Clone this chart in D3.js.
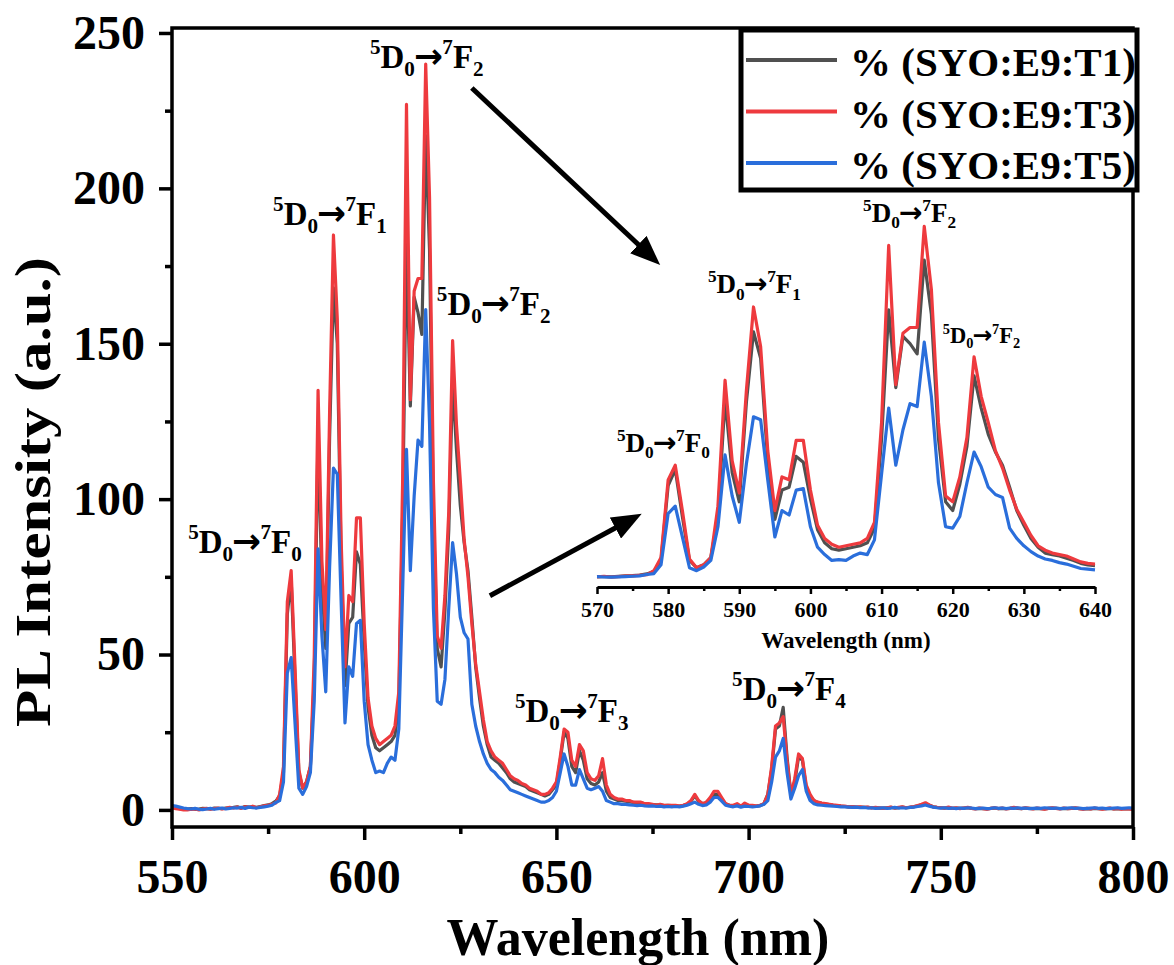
<!DOCTYPE html>
<html>
<head>
<meta charset="utf-8">
<script src="https://cdn.jsdelivr.net/npm/d3@7"></script>
<style>
  html, body { margin: 0; padding: 0; background: #ffffff; }
  svg { display: block; }
  text { font-family: "Liberation Serif", "Times New Roman", serif; font-weight: bold; fill: #000; }
</style>
</head>
<body>
<svg id="chart" width="1174" height="965"></svg>
<script>
// Emission spectra, 1 nm steps from 550 nm to 800 nm (rows of ten points)
const startNm = 550;

const intensityT1 = [
  0.8,0.6,0.4,0.2,0.3,0.4,0.2,0.3,0.5,0.4,      // 550
  0.3,0.6,0.5,0.4,0.6,0.7,0.8,1.0,0.6,1.1,      // 560
  0.9,1.0,0.8,1.1,1.4,1.6,2.0,2.8,4.5,12,       // 570
  63,74,42,12,7,9,14,42,122,72,                 // 580
  52,120,168,150,80,40,60,62,83,79,             // 590
  54,33,24,20,19,20,21,22,24,34,                // 600
  95,183,130,165,160,153,217,180,95,52,         // 610
  46,64,90,138,116,98,86,77,62,46,              // 620
  36,27,21,17,16,15,13.5,12,10,9,               // 630
  8.5,8,7.5,6.5,6,5.5,5,4.5,5,6.5,              // 640
  8,16,25,23,14,12,19,16,10,8.5,                // 650
  8,9,12,6,4,3.5,3,3,2.8,2.6,                   // 660
  2.4,2.2,2.3,2,1.8,1.7,1.6,1.6,1.4,1.5,        // 670
  1.4,1.3,1.2,1.4,1.8,2.8,4.5,2.8,2,2.2,        // 680
  3.5,5,5,3.5,2,1.5,1.3,1.6,1.2,1.8,            // 690
  1.4,1.3,1.2,1.4,2,5,13,26,27,33,              // 700
  17,5,9,17,16,7,4.5,3,2.4,2.1,                 // 710
  1.9,1.7,1.5,1.4,1.2,1.1,1.0,1.0,0.9,0.9,      // 720
  0.8,0.8,0.7,0.7,0.6,0.6,0.7,0.8,0.6,0.7,      // 730
  0.9,0.7,0.8,1.0,1.3,1.6,2.0,1.5,1.0,0.8,      // 740
  0.7,0.6,0.7,0.5,0.6,0.5,0.6,0.7,0.5,0.4,      // 750
  0.5,0.4,0.3,0.5,0.6,0.4,0.5,0.4,0.5,0.7,      // 760
  0.5,0.4,0.6,0.5,0.4,0.5,0.4,0.3,0.5,0.6,      // 770
  0.5,0.4,0.5,0.4,0.5,0.6,0.4,0.3,0.4,0.3,      // 780
  0.5,0.4,0.3,0.4,0.5,0.3,0.4,0.3,0.4,0.3,      // 790
  0.3                                           // 800
];

const intensityT3 = [
  0.6,0.4,0.2,0.0,0.0,0.2,0.3,0.0,0.3,0.5,      // 550
  0.2,0.4,0.6,0.3,0.5,0.8,0.6,0.9,0.5,1.0,      // 560
  0.8,1.2,0.7,1.0,1.3,1.5,1.8,2.2,5,14,         // 570
  67,77,46,13,7,9,14,49,135,80,                 // 580
  58,128,185,158,87,46,69,67,94,94,             // 590
  60,36,27,23,21,22,23,24,27,38,                // 600
  106,227,132,167,171,171,240,197,106,56,       // 610
  52,69,96,151,124,106,87,75,60,47,             // 620
  38,29,22,19,17,16,15,13,11,10,                // 630
  9.5,8.5,8,7,6.5,6,5,5,5.5,7,                  // 640
  9,17,26,25,16,14,21,19,12,10,                 // 650
  9.5,11,16.5,8,5,4,3.5,3.5,3,3,                // 660
  2.5,2.5,2.5,2,2,1.8,1.5,1.8,1.5,1.5,          // 670
  1.5,1.5,1.2,1.5,2,3,5,3,2,2.5,                // 680
  4,6,6,4,2,1.5,1.5,2,1.2,2.2,                  // 690
  1.5,1.5,1.2,1.5,2,5,14,27,28,30,              // 700
  16,5,10,18,16.5,8,5,3,2.5,2.2,                // 710
  2.0,1.8,1.6,1.5,1.3,1.2,1.0,1.1,0.9,1.0,      // 720
  0.8,0.9,0.6,0.8,0.7,0.5,0.7,0.9,0.6,0.8,      // 730
  1.0,0.7,0.9,1.1,1.4,1.8,2.3,1.6,1.0,0.8,      // 740
  0.7,0.6,0.9,0.5,0.7,0.4,0.6,0.8,0.5,0.3,      // 750
  0.6,0.4,0.2,0.5,0.7,0.4,0.6,0.3,0.5,0.8,      // 760
  0.6,0.4,0.7,0.5,0.3,0.6,0.4,0.2,0.5,0.7,      // 770
  0.5,0.3,0.6,0.4,0.5,0.7,0.4,0.2,0.5,0.3,      // 780
  0.6,0.4,0.2,0.4,0.6,0.3,0.5,0.2,0.4,0.3,      // 790
  0.2                                           // 800
];

const intensityT5 = [
  1.4,1.2,0.9,0.6,0.4,0.3,0.5,0.2,0.1,0.3,      // 550
  0.5,0.2,0.4,0.6,0.3,0.5,0.7,0.6,0.8,0.5,      // 560
  0.9,0.7,0.6,0.8,1.0,1.2,1.5,2.4,3,9,          // 570
  44,49,28,7,5,7.5,12,35,84,56,                 // 580
  38,78,110,108,67,28,46,43,60,61,              // 590
  35,21,16,12,12.5,12,15,17,16,26,              // 600
  71,116,77,101,119,117,161,124,65,35,          // 610
  34,42,65,86,76,62,57,55,34,27,                // 620
  22,18,15,13,12,10.5,9.5,8,6.5,6,              // 630
  5.5,5,4.5,4,3.5,3,2.5,2.5,3,4,                // 640
  6,12,18,14,8,8,13,10,7,6.5,                   // 650
  7,7.5,6,3,2.5,2,2,1.8,1.8,1.6,                // 660
  1.5,1.4,1.5,1.3,1.2,1.3,1.1,1.2,1.0,1.1,      // 670
  1.0,1.1,1.0,1.2,1.5,2,2.5,1.8,1.4,1.6,        // 680
  2.5,4,4,2.8,1.5,1.2,1.0,1.3,0.9,1.2,          // 690
  1.1,1.0,1.1,1.3,1.8,3,9,17,19,23,             // 700
  12,3.5,7,11,13,6,3,2,1.6,1.5,                 // 710
  1.4,1.3,1.2,1.1,1.0,1.0,0.9,0.8,0.9,0.7,      // 720
  0.8,0.6,0.7,0.5,0.6,0.7,0.5,0.6,0.8,0.6,      // 730
  0.7,0.6,0.8,0.9,1.1,1.3,1.6,1.2,0.9,0.7,      // 740
  0.6,0.7,0.5,0.6,0.4,0.6,0.5,0.7,0.6,0.4,      // 750
  0.5,0.6,0.4,0.5,0.7,0.5,0.6,0.4,0.6,0.5,      // 760
  0.7,0.5,0.6,0.4,0.5,0.6,0.5,0.7,0.6,0.5,      // 770
  0.6,0.4,0.5,0.6,0.7,0.5,0.6,0.4,0.5,0.6,      // 780
  0.7,0.5,0.6,0.4,0.5,0.6,0.7,0.5,0.6,0.7,      // 790
  0.6                                           // 800
];

const seriesNames = ["% (SYO:E9:T1)", "% (SYO:E9:T3)", "% (SYO:E9:T5)"];
const xTickValues = [550, 600, 650, 700, 750, 800];
const xMinorTicks = [575, 625, 675, 725, 775];
const yTickValues = [0, 50, 100, 150, 200, 250];
const yMinorTicks = [25, 75, 125, 175, 225];
const insetTickValues = [570, 580, 590, 600, 610, 620, 630, 640];
const insetMinorTicks = [575, 585, 595, 605, 615, 625, 635];

// Transition labels (final 7F_J level) for the main plot and the zoomed inset
const mainTransitions = ["0", "1", "2", "2", "3", "4"];
const insetTransitions = ["0", "1", "2", "2"];

// ---- styling / layout ----
const colors = ["#505050", "#ee3a3e", "#2a6edb"];
const plot = { left: 172, right: 1133, top: 28, bottom: 827 };

// label anchors expressed in data coordinates (nm, intensity)
const mainLabelAnchors = [
  { nm: 554.2, v: 82.7, size: 33 },
  { nm: 576.3, v: 188.2, size: 33 },
  { nm: 601.5, v: 238.7, size: 33 },
  { nm: 618.9, v: 159.3, size: 33 },
  { nm: 639.2, v: 28.3, size: 33 },
  { nm: 695.7, v: 35.4, size: 33 }
];
const insetLabelAnchors = [
  { nm: 572.8, v: 86, size: 27 },
  { nm: 585.6, v: 194.5, size: 27 },
  { nm: 607.4, v: 243, size: 27 },
  { nm: 618.6, v: 160.4, size: 22.5 }
];
const pointerArrows = [
  { from: [628.0, 232.3], to: [677.0, 175.3] },
  { from: [632.7, 68.9], to: [672.2, 95.3] }
];

const series = [intensityT1, intensityT3, intensityT5].map((vals, i) => ({
  name: seriesNames[i],
  color: colors[i],
  points: vals.map((v, k) => ({ nm: startNm + k, v }))
}));

const svg = d3.select("#chart");

const x = d3.scaleLinear().domain([550, 800]).range([plot.left, plot.right]);
const y = d3.scaleLinear().domain([-5.5, 251.6]).range([plot.bottom, plot.top]);

// ---- main spectra ----
const line = d3.line().x(d => x(d.nm)).y(d => y(d.v));
svg.append("g").selectAll("path").data(series).join("path")
  .attr("d", d => line(d.points))
  .attr("fill", "none")
  .attr("stroke", d => d.color)
  .attr("stroke-width", 3.2)
  .attr("stroke-linejoin", "round");

// ---- axes ----
function styleAxis(g, fontSize) {
  g.select(".domain").remove();
  g.selectAll(".tick line").attr("stroke", "#000").attr("stroke-width", 3.5);
  g.selectAll(".tick text").style("font-size", fontSize + "px")
    .style("font-family", "'Liberation Serif', serif").style("font-weight", "bold");
}

const xAxis = svg.append("g").attr("transform", `translate(0,${plot.bottom})`)
  .call(d3.axisBottom(x).tickValues(xTickValues).tickSize(13).tickSizeOuter(0).tickFormat(d3.format("d")));
styleAxis(xAxis, 48);
xAxis.selectAll(".tick text").attr("y", 66).attr("dy", 0);

svg.append("g").attr("transform", `translate(0,${plot.bottom})`)
  .call(d3.axisBottom(x).tickValues(xMinorTicks).tickSize(7).tickSizeOuter(0).tickFormat(""))
  .call(g => styleAxis(g, 10));

const yAxis = svg.append("g").attr("transform", `translate(${plot.left},0)`)
  .call(d3.axisLeft(y).tickValues(yTickValues).tickSize(13).tickSizeOuter(0).tickFormat(d3.format("d")));
styleAxis(yAxis, 48);
yAxis.selectAll(".tick text").attr("x", -27);

svg.append("g").attr("transform", `translate(${plot.left},0)`)
  .call(d3.axisLeft(y).tickValues(yMinorTicks).tickSize(7).tickSizeOuter(0).tickFormat(""))
  .call(g => styleAxis(g, 10));

// frame
svg.append("rect")
  .attr("x", plot.left).attr("y", plot.top)
  .attr("width", plot.right - plot.left).attr("height", plot.bottom - plot.top)
  .attr("fill", "none").attr("stroke", "#000").attr("stroke-width", 3.5);

// axis titles
svg.append("text")
  .attr("x", 638).attr("y", 955)
  .attr("text-anchor", "middle")
  .style("font-size", "52px")
  .text("Wavelength (nm)");

svg.append("text")
  .attr("transform", `translate(50,492) rotate(-90)`)
  .attr("text-anchor", "middle")
  .attr("textLength", 470)
  .attr("lengthAdjust", "spacingAndGlyphs")
  .style("font-size", "50px")
  .text("PL Intensity (a.u.)");

// ---- transition labels ----
function transitionLabel(g, px, py, j, f) {
  const t = g.append("text").attr("x", px).attr("y", py).style("font-size", f + "px");
  const s = 0.64 * f, up = -0.42 * f, down = 0.24 * f;
  t.append("tspan").text("5").style("font-size", s + "px").attr("dy", up);
  t.append("tspan").text("D").attr("dy", -up);
  t.append("tspan").text("0").style("font-size", s + "px").attr("dy", down);
  t.append("tspan").text("\u2192")
    .style("font-family", "'DejaVu Sans', sans-serif")
    .style("font-size", (1.05 * f) + "px")
    .attr("dx", -0.03 * f)
    .attr("dy", -down);
  t.append("tspan").text("7").style("font-size", s + "px").attr("dy", up).attr("dx", -0.02 * f);
  t.append("tspan").text("F").attr("dy", -up);
  t.append("tspan").text(j).style("font-size", s + "px").attr("dy", down);
}

const labels = svg.append("g");
mainTransitions.forEach((j, i) => {
  const a = mainLabelAnchors[i];
  transitionLabel(labels, x(a.nm), y(a.v), j, a.size);
});

// ---- pointer arrows ----
const defs = svg.append("defs");
defs.append("marker")
  .attr("id", "head")
  .attr("markerUnits", "userSpaceOnUse")
  .attr("viewBox", "0 0 30 24")
  .attr("refX", 30).attr("refY", 12)
  .attr("markerWidth", 30).attr("markerHeight", 24)
  .attr("orient", "auto")
  .append("path").attr("d", "M0,0 L30,12 L0,24 Z").attr("fill", "#000");

pointerArrows.forEach(a => {
  const x1 = x(a.from[0]), y1 = y(a.from[1]);
  const x2 = x(a.to[0]), y2 = y(a.to[1]);
  const len = Math.hypot(x2 - x1, y2 - y1);
  const ux = (x2 - x1) / len, uy = (y2 - y1) / len;
  svg.append("line")
    .attr("x1", x1).attr("y1", y1)
    .attr("x2", x2 - ux * 18).attr("y2", y2 - uy * 18)
    .attr("stroke", "#000").attr("stroke-width", 5);
  svg.append("path")
    .attr("d", `M${x2 - ux * 18},${y2 - uy * 18} L${x2},${y2}`)
    .attr("stroke", "none").attr("fill", "none")
    .attr("marker-end", "url(#head)");
});

// ---- inset (570-640 nm zoom) ----
const xi = d3.scaleLinear().domain([570, 640]).range([597, 1095]);
const yi = d3.scaleLinear().domain([0, 240]).range([578, 226.4]);
const insetLine = d3.line().x(d => xi(d.nm)).y(d => yi(d.v));
const inset = svg.append("g");
inset.selectAll("path.spec").data(series).join("path")
  .attr("class", "spec")
  .attr("d", d => insetLine(d.points.filter(p => p.nm >= 570 && p.nm <= 640)))
  .attr("fill", "none")
  .attr("stroke", d => d.color)
  .attr("stroke-width", 3.2)
  .attr("stroke-linejoin", "round");

const insetAxisY = 587;
const ia = inset.append("g").attr("transform", `translate(0,${insetAxisY})`)
  .call(d3.axisBottom(xi).tickValues(insetTickValues).tickSize(7).tickSizeOuter(0).tickFormat(d3.format("d")));
ia.select(".domain").attr("stroke", "#000").attr("stroke-width", 3);
ia.selectAll(".tick line").attr("stroke", "#000").attr("stroke-width", 2.5);
ia.selectAll(".tick text").style("font-size", "22px")
  .style("font-family", "'Liberation Serif', serif").style("font-weight", "bold")
  .attr("y", 30).attr("dy", 0);
inset.append("g").attr("transform", `translate(0,${insetAxisY})`)
  .call(d3.axisBottom(xi).tickValues(insetMinorTicks).tickSize(4).tickSizeOuter(0).tickFormat(""))
  .call(g => { g.select(".domain").remove(); g.selectAll(".tick line").attr("stroke", "#000").attr("stroke-width", 2.5); });

inset.append("text")
  .attr("x", 846).attr("y", 648)
  .attr("text-anchor", "middle")
  .style("font-size", "23px")
  .text("Wavelength (nm)");

insetTransitions.forEach((j, i) => {
  const a = insetLabelAnchors[i];
  transitionLabel(inset, xi(a.nm), yi(a.v), j, a.size);
});

// ---- legend ----
const legend = svg.append("g");
legend.append("rect")
  .attr("x", 741).attr("y", 30).attr("width", 396).attr("height", 160)
  .attr("fill", "#fff").attr("stroke", "#000").attr("stroke-width", 5);
series.forEach((s, i) => {
  const cy = 60 + i * 51.5;
  legend.append("line")
    .attr("x1", 746).attr("x2", 837).attr("y1", cy).attr("y2", cy)
    .attr("stroke", s.color).attr("stroke-width", 4);
  legend.append("text")
    .attr("x", 850).attr("y", cy + 16)
    .style("font-size", "41px")
    .text(s.name);
});
</script>
</body>
</html>
